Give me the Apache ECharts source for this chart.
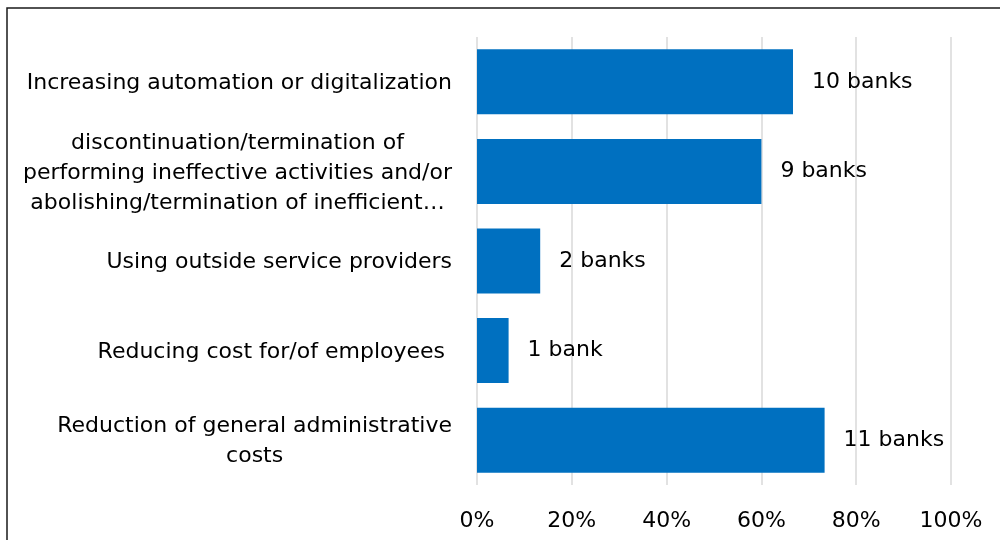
<!DOCTYPE html>
<html>
<head>
<meta charset="utf-8">
<script src="https://cdn.jsdelivr.net/npm/echarts@6/dist/echarts.min.js"></script>
<style>
  html, body { margin: 0; padding: 0; background: #fff; }
  #chart { width: 1000px; height: 540px; }
</style>
</head>
<body>
<div id="chart"></div>
<script>
// Measures taken by the surveyed banks (top to bottom)
const categories = [
  'Increasing automation or digitalization',
  'discontinuation/termination of\nperforming ineffective activities and/or\nabolishing/termination of inefficient…',
  'Using outside service providers',
  'Reducing cost for/of employees ',
  'Reduction of general administrative\ncosts'
];
// Number of banks naming each measure
const bankCounts = [10, 9, 2, 1, 11];
// Banks in the survey
const totalBanks = 15;
// Share axis ticks (percent)
const shareTicks = [0, 20, 40, 60, 80, 100];

const shares = bankCounts.map(n => n / totalBanks * 100);
const FONT = '"DejaVu Sans", Verdana, sans-serif';
const FS = 22;

const chart = echarts.init(document.getElementById('chart'), null, { renderer: 'canvas' });
chart.setOption({
  animation: false,
  backgroundColor: '#ffffff',
  grid: { left: 477, right: 49, top: 37, bottom: 55, containLabel: false },
  xAxis: {
    type: 'value',
    min: shareTicks[0],
    max: shareTicks[shareTicks.length - 1],
    interval: shareTicks[1] - shareTicks[0],
    axisLine: { show: false },
    axisTick: { show: false },
    splitLine: { show: true, lineStyle: { color: '#d9d9d9', width: 1.5 } },
    axisLabel: {
      formatter: '{value}%',
      color: '#000',
      fontFamily: FONT,
      fontSize: FS,
      margin: 25
    }
  },
  yAxis: {
    type: 'category',
    inverse: true,
    data: categories,
    axisLine: { show: false },
    axisTick: { show: false },
    axisLabel: {
      margin: 25,
      color: '#000',
      fontFamily: FONT,
      fontSize: FS,
      padding: [3, 0, 0, 0],
      formatter: v => v.split('\n').map(l => '{c|' + l + '}').join('\n'),
      rich: {
        c: { align: 'center', fontFamily: FONT, fontSize: FS, lineHeight: 30, color: '#000' }
      }
    }
  },
  series: [{
    type: 'bar',
    data: shares,
    barCategoryGap: '27.5%',
    itemStyle: { color: '#0070c0' },
    label: {
      show: true,
      position: 'right',
      distance: 19,
      color: '#000',
      fontFamily: FONT,
      fontSize: FS,
      formatter: p => {
        const n = bankCounts[p.dataIndex];
        return n + (n === 1 ? ' bank' : ' banks');
      }
    }
  }],
  graphic: [{
    type: 'rect',
    shape: { x: 7, y: 8, width: 1100, height: 600 },
    style: { fill: null, stroke: '#1a1a1a', lineWidth: 1.5 },
    silent: true,
    z: 100
  }]
});
</script>
</body>
</html>
